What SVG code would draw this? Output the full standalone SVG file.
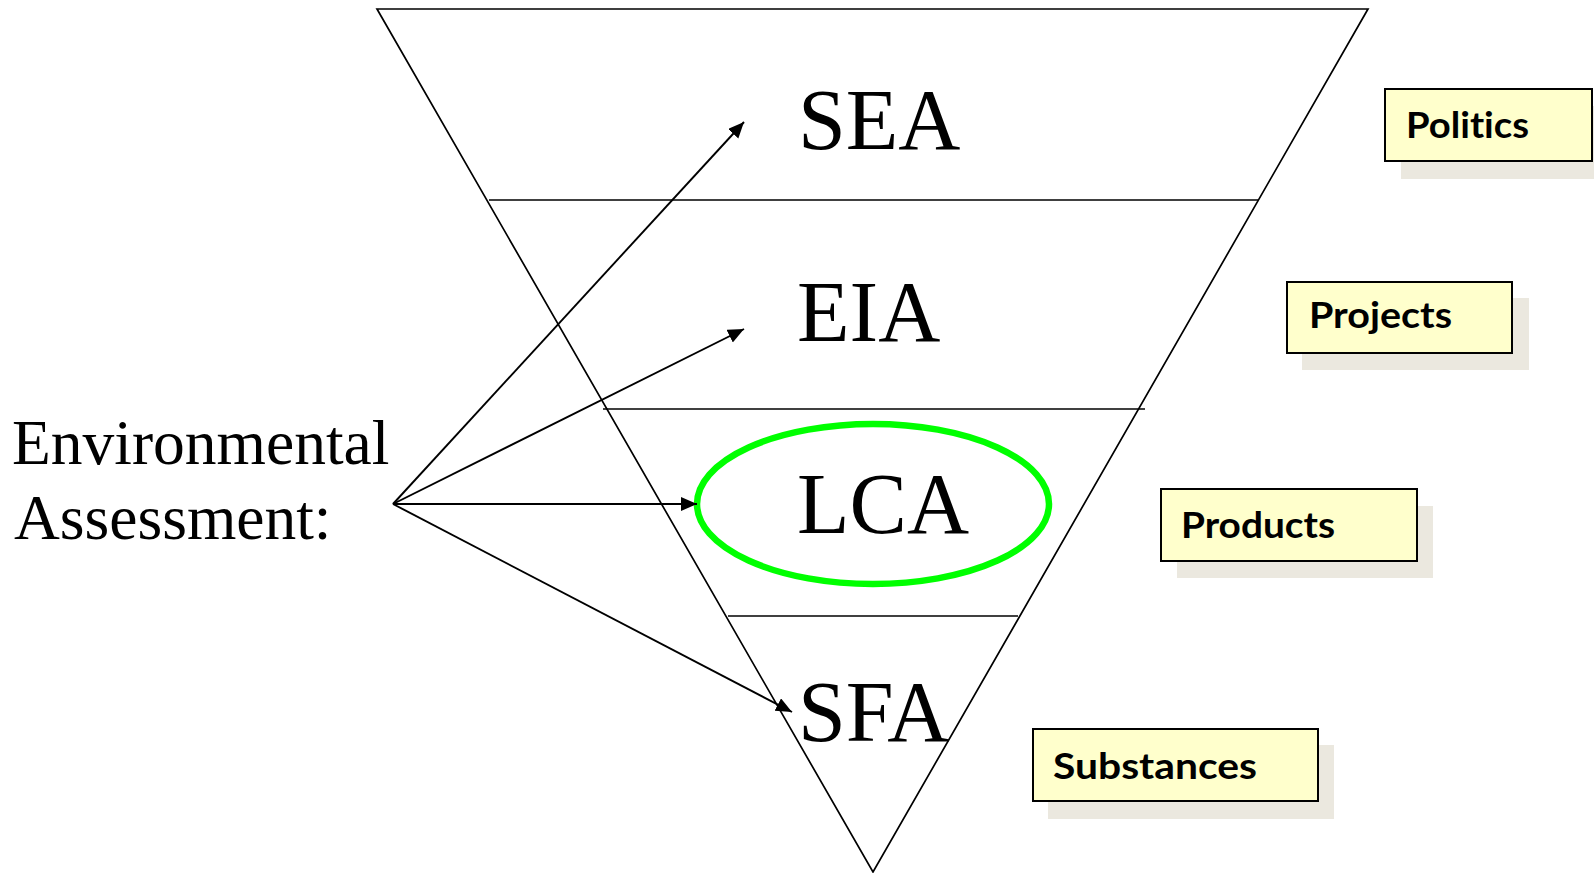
<svg xmlns="http://www.w3.org/2000/svg" width="1594" height="873" viewBox="0 0 1594 873">
  <style>
    .edge { fill: none; stroke: #000; stroke-width: 1.7; }
    .conn { fill: none; stroke: #000; stroke-width: 1.9; marker-end: url(#arrow); }
    .big { font-family: "Liberation Serif", "Times New Roman", serif; font-size: 86px; fill: #000; }
    .side { font-family: "Liberation Serif", "Times New Roman", serif; font-size: 63.5px; fill: #000; }
    .shadow { fill: #ebe8df; stroke: none; }
    .box { fill: #ffffcc; stroke: #000; stroke-width: 2; }
    .lbl { font-family: Lato, "Open Sans", "Liberation Sans", sans-serif; font-weight: bold; font-size: 36px; fill: #000; font-variant-ligatures: none; }
  </style>
  <defs>
    <marker id="arrow" markerUnits="userSpaceOnUse" markerWidth="17" markerHeight="15" refX="16" refY="7" orient="auto">
      <path d="M0,0 L16,7 L0,14 z" fill="#000"/>
    </marker>
  </defs>
  <rect width="1594" height="873" fill="#fff"/>

  <g id="pyramid">
    <polygon class="edge" points="377,9 1368,9 873,872"/>
    <line class="edge" x1="489" y1="200" x2="1258" y2="200"/>
    <line class="edge" x1="603" y1="409" x2="1145" y2="409"/>
    <line class="edge" x1="728" y1="616" x2="1018" y2="616"/>
  </g>

  <g id="sea"><text class="big" x="798" y="149">SEA</text></g>
  <g id="eia"><text class="big" x="797" y="341">EIA</text></g>
  <g id="lca">
    <ellipse cx="873" cy="504" rx="176" ry="80" fill="none" stroke="#00ff00" stroke-width="6.5"/>
    <text class="big" x="797" y="533">LCA</text>
  </g>
  <g id="sfa"><text class="big" x="798" y="741">SFA</text></g>

  <g id="environmental-assessment">
    <text class="side" x="12" y="464">Environmental</text>
    <text class="side" x="14" y="539">Assessment:</text>
  </g>

  <g id="politics">
    <rect class="shadow" x="1401" y="106" width="207" height="73"/>
    <rect class="box" x="1385" y="89" width="207" height="72"/>
    <text class="lbl" x="1406" y="138" textLength="123" lengthAdjust="spacingAndGlyphs">Politics</text>
  </g>
  <g id="projects">
    <rect class="shadow" x="1302" y="298" width="227" height="72"/>
    <rect class="box" x="1287" y="282" width="225" height="71"/>
    <text class="lbl" x="1309" y="328" textLength="143" lengthAdjust="spacingAndGlyphs">Projects</text>
  </g>
  <g id="products">
    <rect class="shadow" x="1177" y="506" width="256" height="72"/>
    <rect class="box" x="1161" y="489" width="256" height="72"/>
    <text class="lbl" x="1181" y="538" textLength="154" lengthAdjust="spacingAndGlyphs">Products</text>
  </g>
  <g id="substances">
    <rect class="shadow" x="1048" y="745" width="286" height="74"/>
    <rect class="box" x="1033" y="729" width="285" height="72"/>
    <text class="lbl" x="1053" y="779" textLength="204" lengthAdjust="spacingAndGlyphs">Substances</text>
  </g>

  <g id="connectors">
    <line class="conn" x1="393" y1="504" x2="744" y2="122"/>
    <line class="conn" x1="393" y1="504" x2="744" y2="329"/>
    <line class="conn" x1="393" y1="504" x2="697" y2="504"/>
    <line class="conn" x1="393" y1="504" x2="792" y2="712"/>
  </g>
</svg>
